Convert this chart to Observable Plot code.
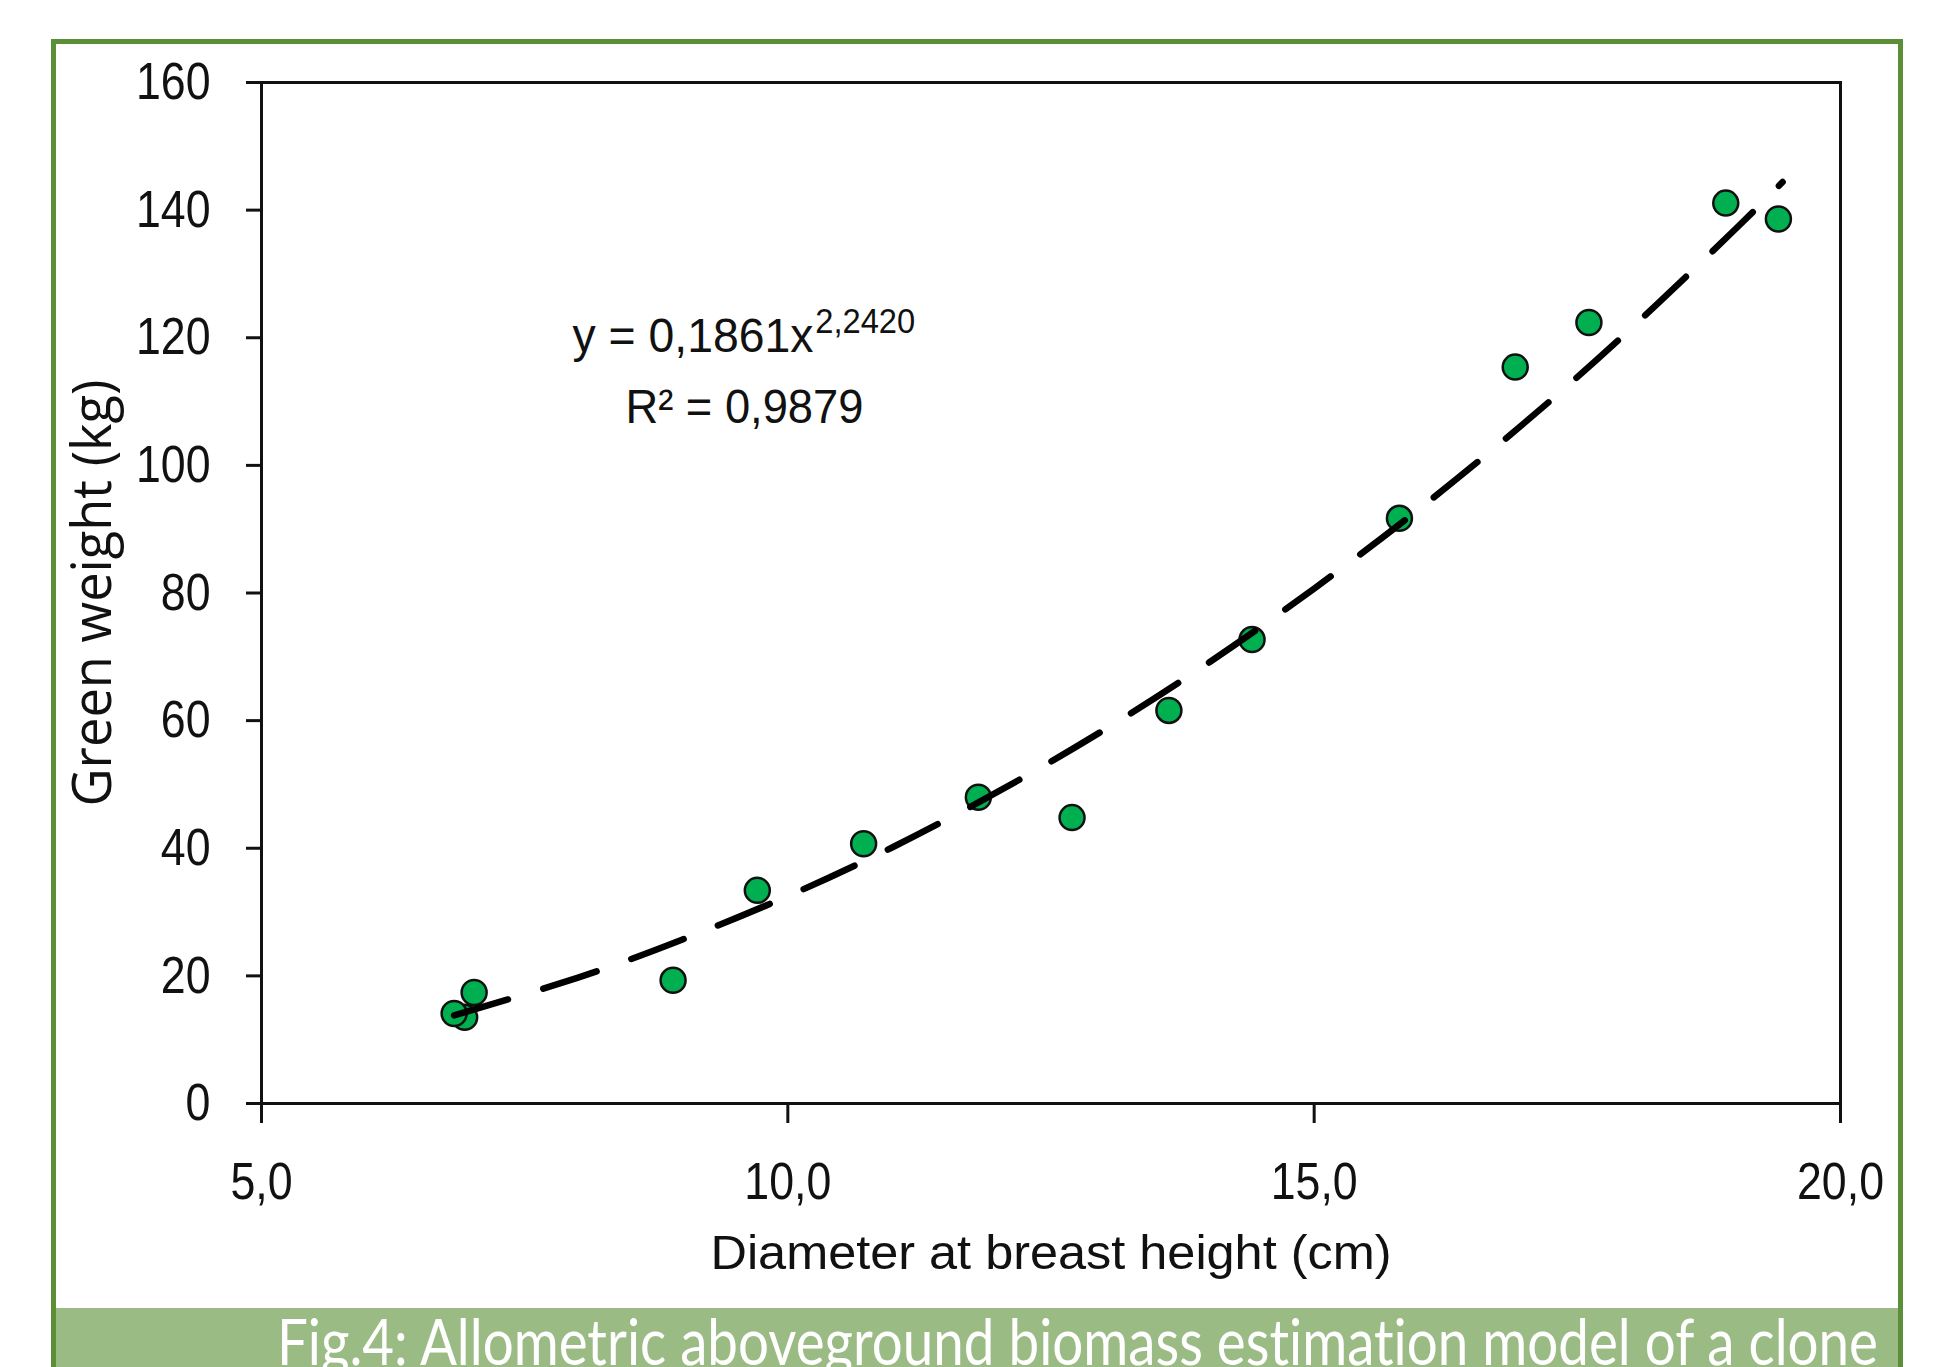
<!DOCTYPE html>
<html>
<head>
<meta charset="utf-8">
<script src="https://cdn.jsdelivr.net/npm/d3@7"></script>
<script src="https://cdn.jsdelivr.net/npm/@observablehq/plot@0.6"></script>
<style>
  html, body { margin: 0; padding: 0; background: #fff; width: 1947px; height: 1367px; overflow: hidden; }
  #wrap { position: relative; width: 1947px; height: 1367px; overflow: hidden; }
  #border { position: absolute; left: 51px; top: 39px; width: 1842px; height: 1400px; border: 5px solid #5b8e37; border-bottom: none; }
  #chart { position: absolute; left: 0; top: 0; }
  #band { position: absolute; left: 56px; top: 1308px; width: 1842px; height: 59px; background: #9bbb84; overflow: hidden; }
  #band svg { display: block; }
  #band text { font-variant-ligatures: none; }
</style>
</head>
<body>
<div id="wrap">
  <div id="border"></div>
  <div id="chart"></div>
  <div id="band"></div>
</div>
<script>
// ---- data ----
const diameter    = [6.93, 6.83, 7.02, 8.91, 9.71, 10.72, 11.81, 12.70, 13.62, 14.41, 15.81, 16.91, 17.61, 18.91, 19.41];
const greenWeight = [13.5, 14.1, 17.4, 19.3, 33.4, 40.7, 48.0, 44.8, 61.6, 72.7, 91.7, 115.4, 122.4, 141.1, 138.6];

// fitted power trend line (dashed)
const trendDiameter = [6.83, 8, 9, 10, 11, 12, 13, 14, 15, 16, 17, 18, 19, 19.45];
const trendWeight   = [13.8, 19.7, 25.7, 32.5, 40.2, 48.9, 58.5, 69.1, 80.7, 93.2, 106.7, 121.3, 137.0, 144.4];

const xTicks = [5, 10, 15, 20];
const xTickLabels = ["5,0", "10,0", "15,0", "20,0"];
const yTicks = [0, 20, 40, 60, 80, 100, 120, 140, 160];
const yTickLabels = ["0", "20", "40", "60", "80", "100", "120", "140", "160"];

const xLabel = "Diameter at breast height (cm)";
const yLabel = "Green weight (kg)";
const equationMain = "y = 0,1861x";
const equationExponent = "2,2420";
const rSquaredText = "R² = 0,9879";
const captionText = "Fig.4: Allometric aboveground biomass estimation model of a clone";

// ---- build tables ----
const points = diameter.map((d, i) => ({d, w: greenWeight[i]}));
const trend = trendDiameter.map((d, i) => ({d, w: trendWeight[i]}));

const numFont = "'Liberation Sans Narrow', 'Arial Narrow', 'Liberation Sans', sans-serif";
const textFont = "'Liberation Sans', Arial, sans-serif";

const chart = Plot.plot({
  width: 1947,
  height: 1308,
  marginLeft: 261,
  marginRight: 107,
  marginTop: 82,
  marginBottom: 205,
  style: {background: "transparent", fontFamily: numFont, color: "#111"},
  x: {domain: [5, 20]},
  y: {domain: [0, 160]},
  marks: [
    Plot.axisX({
      ticks: xTicks,
      tickFormat: d => xTickLabels[xTicks.indexOf(d)],
      tickSize: 20, tickPadding: 39, fontSize: 52, strokeWidth: 3, stroke: "#111", label: null
    }),
    Plot.axisY({
      ticks: yTicks,
      tickFormat: d => yTickLabels[yTicks.indexOf(d)],
      tickSize: 15, tickPadding: 36, fontSize: 52, strokeWidth: 3, stroke: "#111", label: null
    }),
    Plot.frame({stroke: "#111", strokeWidth: 3}),
    Plot.dot(points, {x: "d", y: "w", r: 12.5, fill: "#00b050", stroke: "#111", strokeWidth: 2.5}),
    Plot.line(trend, {
      x: "d", y: "w", curve: "natural", stroke: "#000", strokeWidth: 6.5,
      strokeDasharray: "56 37", strokeLinecap: "round"
    }),
    Plot.text([xLabel], {text: d => d, frameAnchor: "bottom", dy: 165, lineAnchor: "bottom",
      fontSize: 49, fontFamily: textFont, fill: "#111"}),
    Plot.text([yLabel], {text: d => d, frameAnchor: "left", dx: -151, rotate: -90,
      lineAnchor: "bottom", textAnchor: "middle", fontSize: 54, fontFamily: "'Open Sans', sans-serif", fill: "#111"}),
    Plot.text([equationMain], {text: d => d, x: 10.244, y: 117.7, textAnchor: "end", lineAnchor: "bottom",
      fontSize: 49, fontFamily: textFont, fill: "#111"}),
    Plot.text([equationExponent], {text: d => d, x: 10.26, y: 120.8, textAnchor: "start", lineAnchor: "bottom",
      fontSize: 35, fontFamily: textFont, fill: "#111"}),
    Plot.text([rSquaredText], {text: d => d, x: 9.588, y: 106.7, textAnchor: "middle", lineAnchor: "bottom",
      fontSize: 49, fontFamily: textFont, fill: "#111"})
  ]
});
document.getElementById("chart").appendChild(chart);

// fit text widths to the reference's lengths
const targetWidths = new Map([
  [xLabel, 681], [yLabel, 427], [equationMain, 241], [equationExponent, 100], [rSquaredText, 238]
]);
const tickLabelSet = new Set([...xTickLabels, ...yTickLabels]);
chart.querySelectorAll("text").forEach(t => {
  const s = t.textContent;
  const w = targetWidths.get(s);
  if (w) {
    t.setAttribute("textLength", w); t.setAttribute("lengthAdjust", "spacingAndGlyphs");
  } else if (tickLabelSet.has(s)) {
    const natural = t.getComputedTextLength();
    t.setAttribute("textLength", (natural * 0.86).toFixed(1));
    t.setAttribute("lengthAdjust", "spacingAndGlyphs");
  }
});

// caption band
const ns = "http://www.w3.org/2000/svg";
const band = document.getElementById("band");
const svg = document.createElementNS(ns, "svg");
svg.setAttribute("width", 1842); svg.setAttribute("height", 59);
const t = document.createElementNS(ns, "text");
t.setAttribute("x", 1822); t.setAttribute("y", 57);
t.setAttribute("text-anchor", "end");
t.setAttribute("fill", "#ffffff");
t.setAttribute("font-family", "Lato, 'Open Sans', sans-serif");
t.setAttribute("font-weight", "400");
t.setAttribute("font-size", "63");
t.setAttribute("textLength", 1601);
t.setAttribute("lengthAdjust", "spacingAndGlyphs");
t.textContent = captionText;
svg.appendChild(t);
band.appendChild(svg);
</script>
</body>
</html>
